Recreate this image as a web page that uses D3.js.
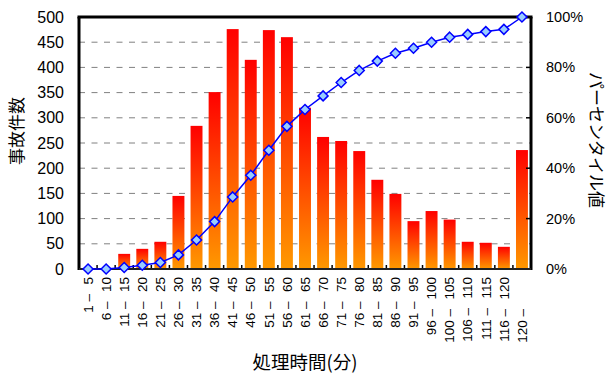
<!DOCTYPE html>
<html><head><meta charset="utf-8">
<script src="https://cdn.jsdelivr.net/npm/d3@7"></script>
<style>body{margin:0;background:#fff}svg{display:block}text.xl{white-space:pre}</style>
</head><body>
<svg id="c" width="611" height="378"></svg>
<script>
const categories = ["1 – 5","6 – 10","11 – 15","16 – 20","21 – 25","26 – 30","31 – 35","36 – 40","41 – 45","46 – 50","51 – 55","56 – 60","61 – 65","66 – 70","71 – 75","76 – 80","81 – 85","86 – 90","91 – 95","96 – 100","100 – 105","106 – 110","111 – 115","116 – 120","120 –"];
const counts = [0,0,30,40,54,145,284,351,476,415,474,460,320,262,254,234,177,149,95,115,98,54,52,44,236];
const percentile = [0,0,0.6,1.5,2.6,5.6,11.5,18.8,28.6,37.2,47.1,56.6,63.3,68.7,74.0,78.8,82.5,85.6,87.6,90.0,92.0,93.1,94.2,95.1,100];
const leftTicks = [0,50,100,150,200,250,300,350,400,450,500];
const rightTicks = [0,20,40,60,80,100];
const yTitleLeft = "事故件数", yTitleRight = "パーセンタイル値", xTitle = "処理時間(分)";

const svg = d3.select("#c");
const L = 79, R = 531, T = 17, B = 269;
const x = d3.scaleBand().domain(categories).range([L, R]).paddingInner(0.34).paddingOuter(0.17);
const xc = d3.scaleBand().domain(categories).range([L, R]);
const y = d3.scaleLinear().domain([0, 500]).range([B, T]);
const y2 = d3.scaleLinear().domain([0, 100]).range([B, T]);
const numFont = "'Liberation Sans', Arial, sans-serif";
const jpFont = "'Noto Sans CJK JP', sans-serif";

const defs = svg.append("defs");
const g = defs.append("linearGradient").attr("id","bg").attr("x1",0).attr("y1",0).attr("x2",0).attr("y2",1);
g.append("stop").attr("offset","0%").attr("stop-color","#ff0000");
g.append("stop").attr("offset","100%").attr("stop-color","#ff9900");

// grid
svg.append("g").selectAll("line").data(leftTicks.filter(d => d > 0 && d < 500)).join("line")
  .attr("x1", L).attr("x2", R).attr("y1", d => y(d)).attr("y2", d => y(d))
  .attr("stroke", "#808080").attr("stroke-width", 1).attr("stroke-dasharray", "6,6.5");

// bars
svg.append("g").selectAll("rect").data(counts).join("rect")
  .attr("x", (d, i) => x(categories[i])).attr("width", x.bandwidth())
  .attr("y", d => y(d)).attr("height", d => B - y(d))
  .attr("fill", "url(#bg)");

// bottom ticks (inside)
svg.append("g").selectAll("line").data(categories.slice(1)).join("line")
  .attr("x1", d => xc(d)).attr("x2", d => xc(d)).attr("y1", B).attr("y2", B - 4)
  .attr("stroke", "#000").attr("stroke-width", 1.5);
// right ticks (inside)
svg.append("g").selectAll("line").data(rightTicks.slice(1, -1)).join("line")
  .attr("x1", R).attr("x2", R - 5).attr("y1", d => y2(d)).attr("y2", d => y2(d))
  .attr("stroke", "#000").attr("stroke-width", 1.5);

// frame
svg.append("line").attr("x1", L - 1.5).attr("x2", R + 1.5).attr("y1", T).attr("y2", T).attr("stroke", "#000").attr("stroke-width", 3);
svg.append("line").attr("x1", L).attr("x2", L).attr("y1", T).attr("y2", B + 1).attr("stroke", "#000").attr("stroke-width", 3);
svg.append("line").attr("x1", R).attr("x2", R).attr("y1", T).attr("y2", B + 1).attr("stroke", "#000").attr("stroke-width", 3);
svg.append("line").attr("x1", L).attr("x2", R).attr("y1", B).attr("y2", B).attr("stroke", "#222").attr("stroke-width", 2);

// line
const line = d3.line().x((d, i) => xc(categories[i]) + xc.bandwidth() / 2).y(d => y2(d));
svg.append("path").datum(percentile).attr("d", line).attr("fill", "none").attr("stroke", "#0000ff").attr("stroke-width", 1.5);
svg.append("g").selectAll("path").data(percentile).join("path")
  .attr("transform", (d, i) => `translate(${xc(categories[i]) + xc.bandwidth() / 2},${y2(d)})`)
  .attr("d", "M0,-5L5,0L0,5L-5,0Z").attr("fill", "#99ccff").attr("stroke", "#0000ff").attr("stroke-width", 1.5);

// left labels
svg.append("g").selectAll("text").data(leftTicks).join("text")
  .attr("x", 64).attr("y", d => y(d)).attr("dy", "0.35em").attr("text-anchor", "end")
  .attr("font-family", numFont).attr("font-size", 16).text(d => d);
// right labels
svg.append("g").selectAll("text").data(rightTicks).join("text")
  .attr("x", 546).attr("y", d => y2(d)).attr("dy", "0.35em").attr("text-anchor", "start")
  .attr("font-family", numFont).attr("font-size", 14.5).text(d => d + "%");
// x labels (wider gap after the dash, open-ended label padded so its dash lines up)
const fmt = d => {
  const parts = d.split(" – ");
  if (parts.length === 2) return parts[0] + " –\u2002\u2009" + parts[1];
  return d + "\u2002\u2009\u2007\u2007\u2007";
};
svg.append("g").selectAll("text").data(categories).join("text")
  .attr("class", "xl")
  .attr("transform", d => `translate(${xc(d) + xc.bandwidth() / 2},277) rotate(-90)`)
  .attr("dy", "0.35em").attr("text-anchor", "end")
  .attr("font-family", numFont).attr("font-size", 13.5).text(fmt);

// titles
svg.append("text").attr("transform", "translate(17,131) rotate(-90)").attr("dy", "0.35em").attr("text-anchor", "middle")
  .attr("font-family", jpFont).attr("font-size", 17).text(yTitleLeft);
svg.append("text").attr("transform", "translate(596,140) rotate(90)").attr("dy", "0.35em").attr("text-anchor", "middle")
  .attr("font-family", jpFont).attr("font-size", 17).text(yTitleRight);
svg.append("text").attr("x", 305).attr("y", 363).attr("dy", "0.35em").attr("text-anchor", "middle")
  .attr("font-family", jpFont).attr("font-size", 18.5).text(xTitle);
</script>
</body></html>
